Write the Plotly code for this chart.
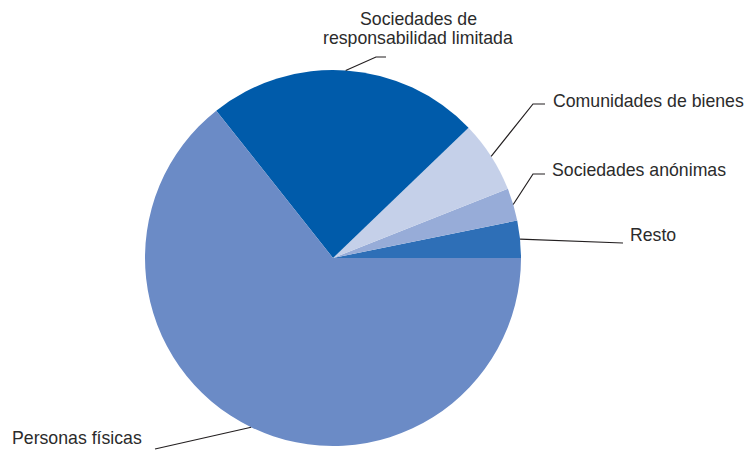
import math
import plotly.graph_objects as go

# Data (counterclockwise from 3 o'clock)
labels = ["Resto", "Sociedades anónimas", "Comunidades de bienes",
          "Sociedades de responsabilidad limitada", "Personas físicas"]
values = [3.2, 2.8, 6.2, 23.5, 64.4]
colors = ["#2E6FB7", "#97ACD8", "#C5D0E9", "#005BAA", "#6B8BC6"]

W, H = 750, 450
# pie domain in pixels
DX0, DX1, DY0, DY1 = 145, 521, 70, 446
cx, cy = (DX0 + DX1) / 2, (DY0 + DY1) / 2
R = min(DX1 - DX0, DY1 - DY0) / 2

def px(x):
    return x / W

def py(y):
    return 1 - y / H

total = sum(values)
# counterclockwise pies in plotly place the first slice clockwise-ending at rotation
rotation = 90 - values[0] / total * 360.0

fig = go.Figure(go.Pie(
    labels=labels, values=values, sort=False,
    direction="counterclockwise", rotation=rotation,
    marker=dict(colors=colors, line=dict(width=0)),
    textinfo="none", hoverinfo="label+percent", showlegend=False,
    domain=dict(x=[px(DX0), px(DX1)], y=[py(DY1), py(DY0)]),
))

# label layout: text lines (text, x, y, xanchor) and leader points after edge
label_layout = {
    "Sociedades de responsabilidad limitada": dict(
        texts=[("Sociedades de", 418, 19, "center"),
               ("responsabilidad limitada", 418, 37.5, "center")],
        leader=[(376, 57), (386, 57)]),
    "Comunidades de bienes": dict(
        texts=[("Comunidades de bienes", 551, 101, "left")],
        leader=[(533, 104), (545, 104)]),
    "Sociedades anónimas": dict(
        texts=[("Sociedades anónimas", 550, 170, "left")],
        leader=[(533, 174), (545, 174)]),
    "Resto": dict(
        texts=[("Resto", 628, 235, "left")],
        leader=[(623, 243)]),
    "Personas físicas": dict(
        texts=[("Personas físicas", 144, 438, "right")],
        leader=[(155, 449)]),
}

cum = 0.0
annotations = []
shapes = []
for lab, v in zip(labels, values):
    mid = (cum + v / 2) / total * 360.0
    cum += v
    a = math.radians(mid)
    ex, ey = cx + R * math.cos(a), cy - R * math.sin(a)
    lay = label_layout[lab]
    pts = [(ex, ey)] + lay["leader"]
    path = "M " + " L ".join(f"{px(x):.5f},{py(y):.5f}" for x, y in pts)
    shapes.append(dict(type="path", xref="paper", yref="paper", path=path,
                       line=dict(color="#231F20", width=1.2)))
    for t, tx, ty, anc in lay["texts"]:
        annotations.append(dict(text=t, x=px(tx), y=py(ty), xref="paper", yref="paper",
                                xanchor=anc, yanchor="middle", showarrow=False,
                                height=18,
                                font=dict(family="Liberation Sans, Arial, sans-serif",
                                          size=17.7, color="#2B2B2B")))

fig.update_layout(
    width=W, height=H,
    margin=dict(l=0, r=0, t=0, b=0),
    paper_bgcolor="white", plot_bgcolor="white",
    annotations=annotations, shapes=shapes,
)

fig.write_html("out.html",
               config={"displayModeBar": False},
               post_script="document.body.style.margin='0';document.body.style.overflow='hidden';")
